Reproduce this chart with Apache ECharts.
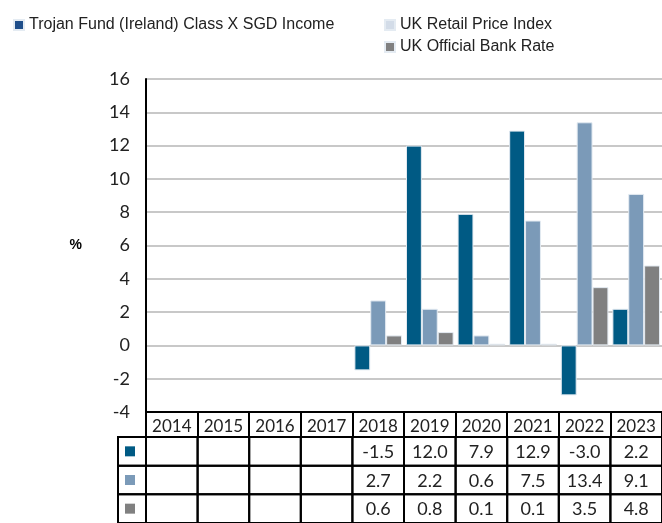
<!DOCTYPE html>
<html>
<head>
    <meta charset="utf-8">
    <script src="https://cdn.jsdelivr.net/npm/echarts@6/dist/echarts.min.js"></script>
    <style>
        html, body { margin: 0; padding: 0; background: #fff; }
    </style>
</head>
<body>
<div id="main" style="width: 662px; height: 523px;"></div>
<script type="text/javascript">
    let years = ['2014', '2015', '2016', '2017', '2018', '2019', '2020', '2021', '2022', '2023']
    let fund = [null, null, null, null, -1.5, 12.0, 7.9, 12.9, -3.0, 2.2]
    let rpi = [null, null, null, null, 2.7, 2.2, 0.6, 7.5, 13.4, 9.1]
    let bank = [null, null, null, null, 0.6, 0.8, 0.1, 0.1, 3.5, 4.8]
    let yTicks = { min: -4, max: 16, interval: 2 }

    let names = ['Trojan Fund (Ireland) Class X SGD Income', 'UK Retail Price Index', 'UK Official Bank Rate']
    let barColors = ['#005a84', '#7b9ab8', '#808080']
    let legendColors = ['#1f4e8a', '#d3dce8', '#808080']

    let tableRows = [fund, rpi, bank]
    let tableData = []
    tableRows.forEach((row, r) => {
        row.forEach((v, i) => tableData.push([i, r]))
    })

    let numFont = 'Lato'
    let chart = echarts.init(document.getElementById('main'))

    function barSeries(idx, data) {
        return {
            name: names[idx],
            type: 'bar',
            data: data,
            barGap: '0%',
            barCategoryGap: '7.7%',
            itemStyle: { color: barColors[idx], borderColor: '#e4ebf2', borderWidth: 1 },
            xAxisIndex: 0,
            yAxisIndex: 0
        }
    }

    let option = {
        animation: false,
        legend: [{
            left: 8,
            top: 12,
            icon: 'rect',
            itemWidth: 10,
            itemHeight: 10,
            itemGap: 6,
            textStyle: { fontFamily: 'Liberation Sans', fontSize: 16, color: '#222' },
            data: [{ name: names[0], itemStyle: { color: legendColors[0] } }]
        }, {
            left: 379,
            top: 12,
            orient: 'vertical',
            icon: 'rect',
            itemWidth: 10,
            itemHeight: 10,
            itemGap: 6,
            textStyle: { fontFamily: 'Liberation Sans', fontSize: 16, color: '#222' },
            data: [
                { name: names[1], itemStyle: { color: legendColors[1] } },
                { name: names[2], itemStyle: { color: legendColors[2] } }
            ]
        }],
        grid: [
            { left: 146, right: -4, top: 79, bottom: 111 },
            { left: 146, right: -4, top: 437, height: 90 }
        ],
        xAxis: [{
            type: 'category',
            data: years,
            gridIndex: 0,
            axisLine: { onZero: false, lineStyle: { color: '#000', width: 2 } },
            axisTick: { show: true, interval: 0, length: 25, lineStyle: { color: '#000', width: 2 } },
            axisLabel: { interval: 0, margin: 6, fontFamily: numFont, fontSize: 17, color: '#222' }
        }, {
            type: 'category',
            data: years,
            gridIndex: 1,
            show: false
        }],
        yAxis: [{
            type: 'value',
            gridIndex: 0,
            min: yTicks.min,
            max: yTicks.max,
            interval: yTicks.interval,
            name: '%',
            nameLocation: 'middle',
            nameRotate: 0,
            nameGap: 64,
            nameTextStyle: { fontFamily: 'Liberation Sans', fontSize: 14, fontWeight: 'bold', color: '#000', padding: [8, 0, 0, 0] },
            axisLine: { show: true, lineStyle: { color: '#000', width: 2 } },
            axisTick: { show: false },
            axisLabel: { margin: 16, fontFamily: numFont, fontSize: 18, color: '#222' },
            splitLine: { lineStyle: { color: '#c8c8c8', width: 2 } }
        }, {
            type: 'category',
            data: ['fund', 'rpi', 'bank'],
            inverse: true,
            gridIndex: 1,
            show: false
        }],
        series: [
            barSeries(0, fund),
            barSeries(1, rpi),
            barSeries(2, bank),
            {
                type: 'custom',
                xAxisIndex: 1,
                yAxisIndex: 1,
                data: tableData,
                renderItem: function (params, api) {
                    let i = api.value(0)
                    let r = api.value(1)
                    let c = api.coord([i, r])
                    let s = api.size([1, 1])
                    let v = tableRows[r][i]
                    let children = [{
                        type: 'rect',
                        shape: { x: c[0] - s[0] / 2, y: c[1] - s[1] / 2, width: s[0], height: s[1] },
                        style: { fill: 'none', stroke: '#000', lineWidth: 2 }
                    }, {
                        type: 'text',
                        x: c[0],
                        y: c[1] + 1,
                        style: {
                            text: v == null ? '' : v.toFixed(1),
                            align: 'center',
                            verticalAlign: 'middle',
                            fontFamily: numFont,
                            fontSize: 18,
                            fill: '#222'
                        }
                    }]
                    if (i === 0) {
                        let x0 = c[0] - s[0] / 2
                        children.push({
                            type: 'rect',
                            shape: { x: x0 - 28, y: c[1] - s[1] / 2, width: 28, height: s[1] },
                            style: { fill: 'none', stroke: '#000', lineWidth: 2 }
                        }, {
                            type: 'rect',
                            shape: { x: x0 - 21, y: c[1] - 5, width: 10, height: 10 },
                            style: { fill: barColors[r] }
                        })
                    }
                    return { type: 'group', children: children }
                }
            }
        ]
    }
    chart.setOption(option)
</script>
</body>
</html>
